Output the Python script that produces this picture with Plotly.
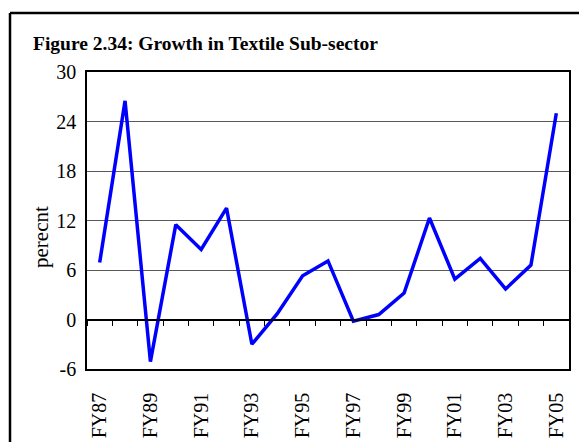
import plotly.graph_objects as go

categories = ["FY87", "FY88", "FY89", "FY90", "FY91", "FY92", "FY93", "FY94", "FY95", "FY96",
              "FY97", "FY98", "FY99", "FY00", "FY01", "FY02", "FY03", "FY04", "FY05"]
growth = [6.9, 26.5, -5.1, 11.5, 8.5, 13.5, -3.0, 0.7, 5.3, 7.1,
          -0.2, 0.6, 3.2, 12.3, 4.9, 7.4, 3.7, 6.6, 25.0]
y_ticks = [-6, 0, 6, 12, 18, 24, 30]
y_tick_labels = ["-6", "0", "6", "12", "18", "24", "30"]
x_tick_labels = categories[::2]

W, H = 579, 442
L, R, T, B = 87, 10, 72, 73
pw, ph = W - L - R, H - T - B
ymin, ymax = y_ticks[0], y_ticks[-1]
FONT = "Liberation Serif"

fig = go.Figure()
# invisible helper trace for the zero-line tick axis
fig.add_trace(go.Scatter(x=categories, y=growth, xaxis="x2", mode="lines",
                         line=dict(width=0), opacity=0, hoverinfo="skip", showlegend=False))
fig.add_trace(go.Scatter(x=categories, y=growth, mode="lines",
                         line=dict(color="#0000FF", width=3.5), showlegend=False))

# outer frame: only top and left edges are visible in the picture
fx0, fy0 = (10 - L) / pw, (H - B - 13) / ph
fx1, fyb = (W - L) / pw, (H - B - H) / ph
frame = dict(type="line", xref="paper", yref="paper",
             line=dict(color="black", width=2.5), layer="below")

fig.update_layout(
    width=W, height=H,
    margin=dict(l=L, r=R, t=T, b=B, autoexpand=False),
    paper_bgcolor="white", plot_bgcolor="white",
    font=dict(family=FONT, color="black", size=20),
    title=dict(text="<b>Figure 2.34: Growth in Textile Sub-sector</b>",
               x=33 / W, xanchor="left", xref="container",
               y=1 - 43 / H, yanchor="middle", yref="container",
               font=dict(family=FONT, size=19.5, color="black")),
    xaxis=dict(type="category", categoryarray=categories, range=[-0.5, len(categories) - 0.5],
               tickmode="array", tickvals=x_tick_labels, ticktext=x_tick_labels,
               tickangle=-90, ticks="", showgrid=False, zeroline=False, automargin=False,
               showline=True, linecolor="black", linewidth=1.5, mirror=True,
               ticklabelstandoff=14, tickfont=dict(size=20)),
    xaxis2=dict(type="category", categoryarray=categories, range=[-0.5, len(categories) - 0.5],
                overlaying="x", anchor="free", side="bottom", automargin=False,
                position=(0 - ymin) / (ymax - ymin),
                tickmode="linear", tick0=0, dtick=1, tickson="boundaries",
                ticks="outside", ticklen=6, tickwidth=1, tickcolor="black",
                showticklabels=False, showgrid=False, zeroline=False,
                showline=True, linecolor="black", linewidth=1.5),
    yaxis=dict(range=[ymin, ymax], tickmode="array", tickvals=y_ticks, ticktext=y_tick_labels,
               ticks="", showgrid=True, gridcolor="#5a5a5a", gridwidth=1, automargin=False,
               zeroline=True, zerolinecolor="black", zerolinewidth=1.5,
               showline=True, linecolor="black", linewidth=1.5, mirror=True,
               ticklabelstandoff=5, tickfont=dict(size=20)),
    annotations=[dict(text="perecnt", textangle=-90, xref="paper", yref="paper",
                      x=(41 - L) / pw, y=(H - B - 237) / ph, xanchor="center", yanchor="middle",
                      showarrow=False, font=dict(family=FONT, size=21, color="black"))],
    shapes=[dict(frame, x0=fx0, x1=fx0, y0=fyb, y1=fy0),
            dict(frame, x0=fx0, x1=fx1, y0=fy0, y1=fy0)],
)

fig.write_html("out.html", config={"displayModeBar": False},
               post_script="document.body.style.margin='0';document.body.style.overflow='hidden';"
                           "document.documentElement.style.overflow='hidden';")
